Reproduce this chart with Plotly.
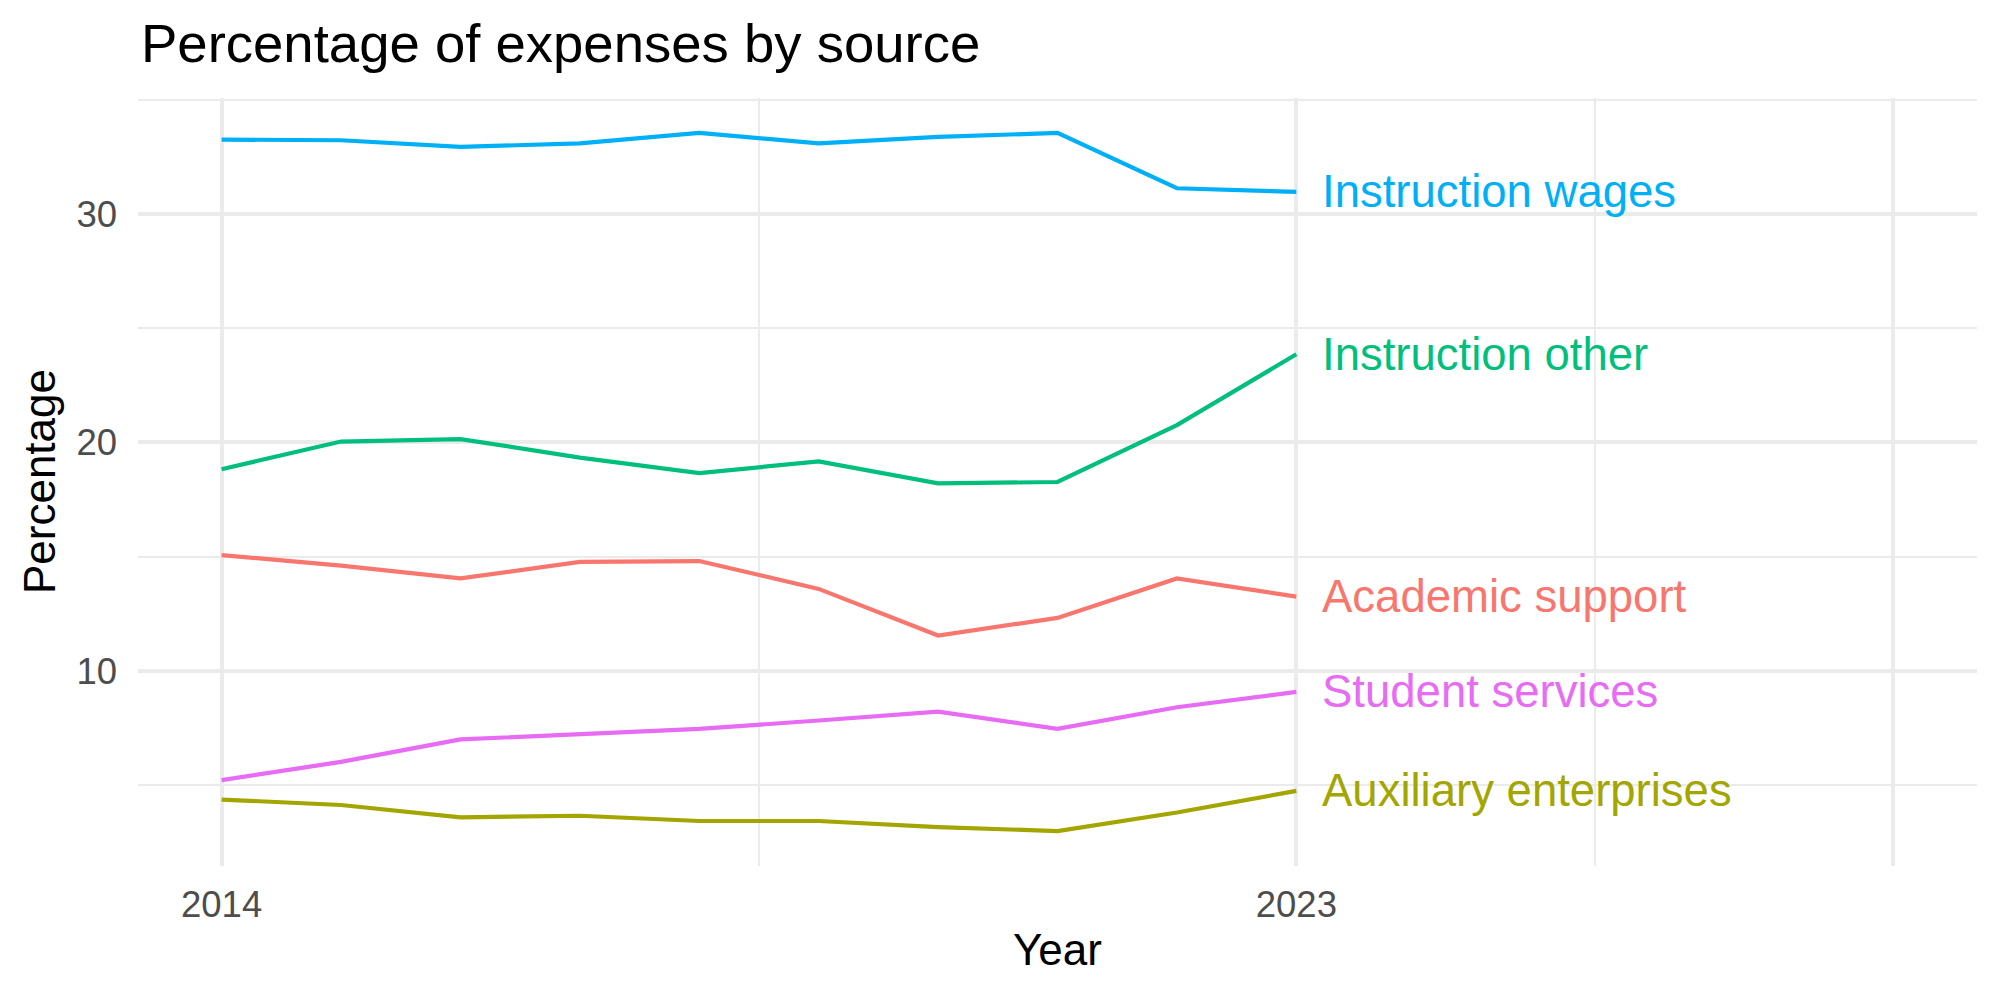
import plotly.graph_objects as go

years = [2014, 2015, 2016, 2017, 2018, 2019, 2020, 2021, 2022, 2023]

instruction_wages = [33.26, 33.23, 32.94, 33.09, 33.55, 33.09, 33.38, 33.55, 31.13, 30.97]
instruction_other = [18.83, 20.04, 20.15, 19.34, 18.66, 19.17, 18.21, 18.27, 20.76, 23.86]
academic_support = [15.07, 14.61, 14.05, 14.77, 14.81, 13.59, 11.55, 12.32, 14.05, 13.25]
student_services = [5.22, 6.02, 7.00, 7.23, 7.46, 7.83, 8.22, 7.46, 8.41, 9.08]
auxiliary_enterprises = [4.37, 4.13, 3.59, 3.66, 3.43, 3.43, 3.16, 2.99, 3.80, 4.75]

series_names = ["Academic support", "Auxiliary enterprises", "Instruction other",
                "Instruction wages", "Student services"]
series_values = [academic_support, auxiliary_enterprises, instruction_other,
                 instruction_wages, student_services]
series_colors = ["#F8766D", "#A3A500", "#00BF7D", "#00B0F6", "#E76BF3"]

x_tick_vals = [2014, 2023, 2028]
x_tick_text = ["2014", "2023", ""]
x_minor_vals = [2018.5, 2025.5]
y_tick_vals = [10, 20, 30]
y_minor_vals = [5, 15, 25, 35]

FONT = "Liberation Sans, Arial, Helvetica, sans-serif"
GRID = "#EBEBEB"

fig = go.Figure()
for name, vals, col in zip(series_names, series_values, series_colors):
    fig.add_trace(go.Scatter(x=years, y=vals, mode="lines", name=name,
                             line=dict(color=col, width=4.2), showlegend=False,
                             hoverinfo="x+y+name"))
    fig.add_annotation(x=years[-1], y=vals[-1], text=name, showarrow=False,
                       xanchor="left", yanchor="middle", xshift=24,
                       font=dict(family=FONT, size=45.5, color=col))

fig.add_annotation(text="Year", xref="paper", yref="paper", x=0.5, y=-0.109,
                   showarrow=False, xanchor="center", yanchor="middle",
                   font=dict(family=FONT, size=44, color="black"))
fig.add_annotation(text="Percentage", xref="paper", yref="paper", x=-0.0538, y=0.5,
                   showarrow=False, xanchor="center", yanchor="middle", textangle=-90,
                   font=dict(family=FONT, size=44, color="black"))

fig.update_layout(
    width=2000, height=1000,
    margin=dict(l=138, r=23, t=98, b=134),
    plot_bgcolor="white", paper_bgcolor="white",
    title=dict(text="Percentage of expenses by source", xref="container", yref="container",
               x=0.0705, y=0.957, xanchor="left", yanchor="middle",
               font=dict(family=FONT, size=54.5, color="black")),
    xaxis=dict(range=[2013.3, 2028.7], tickmode="array", tickvals=x_tick_vals,
               ticktext=x_tick_text, showgrid=True, gridcolor=GRID, gridwidth=4,
               zeroline=False, showline=False, ticks="", ticklabelstandoff=13,
               tickfont=dict(family=FONT, size=36.5, color="#4D4D4D"),
               minor=dict(tickmode="array", tickvals=x_minor_vals, showgrid=True,
                          gridcolor=GRID, gridwidth=2)),
    yaxis=dict(range=[1.46, 35.08], tickmode="array", tickvals=y_tick_vals,
               showgrid=True, gridcolor=GRID, gridwidth=4,
               zeroline=False, showline=False, ticks="", ticklabelstandoff=20,
               tickfont=dict(family=FONT, size=36.5, color="#4D4D4D"),
               minor=dict(tickmode="array", tickvals=y_minor_vals, showgrid=True,
                          gridcolor=GRID, gridwidth=2)),
)

fig.write_html("out.html")
